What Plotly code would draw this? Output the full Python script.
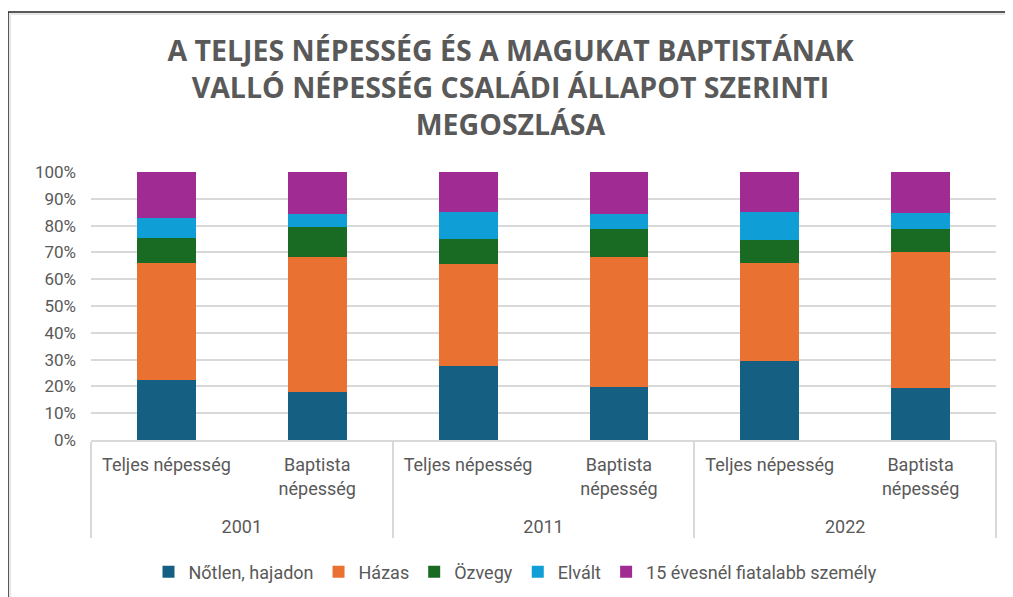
import plotly.graph_objects as go

years = ["2001", "2001", "2011", "2011", "2022", "2022"]
groups = ["Teljes népesség<br> ", "Baptista<br>népesség<br> "] * 3
series_names = ["Nőtlen, hajadon", "Házas", "Özvegy", "Elvált", "15 évesnél fiatalabb személy"]
colors = ["#156082", "#E97132", "#196B24", "#0F9ED5", "#A02B93"]

notlen = [22.4, 17.9, 27.8, 19.8, 29.3, 19.3]
hazas = [43.6, 50.2, 37.8, 48.3, 36.8, 51.0]
ozvegy = [9.5, 11.5, 9.5, 10.5, 8.5, 8.3]
elvalt = [7.5, 4.9, 10.0, 5.9, 10.5, 6.0]
fiatal = [17.0, 15.5, 14.9, 15.5, 14.9, 15.4]

values = [notlen, hazas, ozvegy, elvalt, fiatal]

W, H = 1005, 589
L, R, T, B = 83, 17, 164, 157
PW, PH = W - L - R, H - T - B

fig = go.Figure()
for name, col, vals in zip(series_names, colors, values):
    fig.add_trace(go.Bar(
        x=[years, groups], y=[v / 100 for v in vals], name=name,
        marker=dict(color=col, line=dict(width=0)),
    ))


def px(xp):
    return (xp - L) / PW


def py(yp):
    return (T + PH - yp) / PH


fig.update_layout(
    width=W, height=H,
    barmode="stack", bargap=0.61,
    plot_bgcolor="white", paper_bgcolor="white",
    margin=dict(l=L, r=R, t=T, b=B, autoexpand=False),
    font=dict(family="Roboto", color="#595959", size=18),
    title=dict(
        text="A TELJES NÉPESSÉG ÉS A MAGUKAT BAPTISTÁNAK<br>VALLÓ NÉPESSÉG CSALÁDI ÁLLAPOT SZERINTI<br>MEGOSZLÁSA",
        x=0.5, xanchor="center", y=1 - 53 / H, yanchor="top",
        font=dict(family="Open Sans", size=28.5, color="#595959", weight="bold"),
    ),
    legend=dict(orientation="h", x=0.5 - 28 / PW, xanchor="center", y=py(564), yanchor="middle",
                font=dict(size=18, color="#595959"), traceorder="normal"),
    yaxis=dict(range=[0, 1], dtick=0.1, tickformat=".0%", gridcolor="#D9D9D9", gridwidth=1.5,
               zeroline=False, showline=False, ticks="", ticklabelstandoff=14,
               tickfont=dict(size=17, color="#595959")),
    xaxis=dict(type="multicategory", showline=True, linecolor="#D9D9D9", linewidth=1.5,
               showdividers=True, dividercolor="#D9D9D9", dividerwidth=1.5,
               ticklabelstandoff=8,
               tickfont=dict(size=18, color="#595959")),
    shapes=[dict(type="line", xref="paper", yref="paper", x0=px(0), x1=px(W),
                 y0=py(4), y1=py(4), line=dict(color="#222222", width=1.5)),
            dict(type="line", xref="paper", yref="paper", x0=px(0), x1=px(0),
                 y0=py(4), y1=py(H), line=dict(color="#222222", width=1.5)),
            dict(type="line", xref="paper", yref="paper", x0=px(1.5), x1=px(W),
                 y0=py(6), y1=py(6), line=dict(color="#E6E6E6", width=2)),
            dict(type="line", xref="paper", yref="paper", x0=px(2), x1=px(2),
                 y0=py(5.5), y1=py(H), line=dict(color="#E6E6E6", width=2))],
)

fig.write_html("out.html")
